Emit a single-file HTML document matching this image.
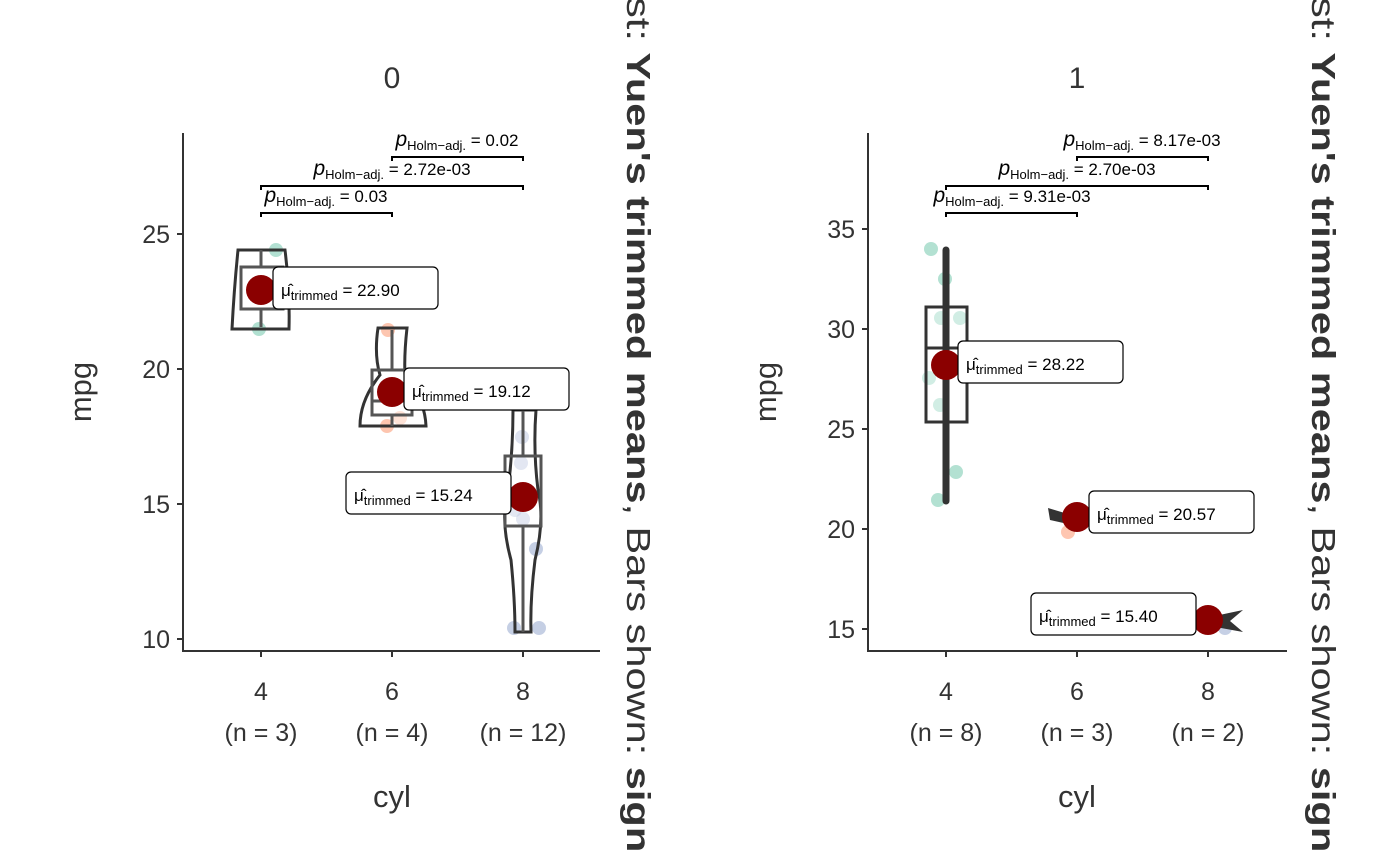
<!DOCTYPE html>
<html><head><meta charset="utf-8"><style>
html,body{margin:0;background:#fff;width:1400px;height:866px;overflow:hidden}
svg{display:block;font-family:"Liberation Sans",sans-serif}
</style></head><body>
<svg width="1400" height="866" viewBox="0 0 1400 866" overflow="hidden">
<g fill="#333">
<text x="392" y="88" font-size="30" text-anchor="middle">0</text>
<text x="1077" y="88" font-size="30" text-anchor="middle">1</text>
<text transform="translate(91,392) rotate(-90)" font-size="31" text-anchor="middle">mpg</text>
<text transform="translate(776,392) rotate(-90)" font-size="31" text-anchor="middle">mpg</text>
<text x="392" y="807" font-size="31" text-anchor="middle">cyl</text>
<text x="1077" y="807" font-size="31" text-anchor="middle">cyl</text>
<g font-size="25" text-anchor="end">
<text x="170" y="243">25</text><text x="170" y="378">20</text><text x="170" y="513">15</text><text x="170" y="648">10</text>
<text x="855" y="238">35</text><text x="855" y="338">30</text><text x="855" y="438">25</text><text x="855" y="538">20</text><text x="855" y="638">15</text>
</g>
<g font-size="25" text-anchor="middle">
<text x="261" y="700">4</text><text x="261" y="741">(n = 3)</text>
<text x="392" y="700">6</text><text x="392" y="741">(n = 4)</text>
<text x="523" y="700">8</text><text x="523" y="741">(n = 12)</text>
<text x="946" y="700">4</text><text x="946" y="741">(n = 8)</text>
<text x="1077" y="700">6</text><text x="1077" y="741">(n = 3)</text>
<text x="1208" y="700">8</text><text x="1208" y="741">(n = 2)</text>
</g>
<text transform="translate(627,-3) rotate(90) scale(1.26,1)" font-size="33">st: <tspan font-weight="bold">Yuen's trimmed means</tspan>, Bars shown: <tspan font-weight="bold">sign</tspan></text>
<text transform="translate(1312,-3) rotate(90) scale(1.26,1)" font-size="33">st: <tspan font-weight="bold">Yuen's trimmed means</tspan>, Bars shown: <tspan font-weight="bold">sign</tspan></text>
</g>
<g stroke="#333" stroke-width="2" fill="none">
<path d="M183,133V651H600"/>
<path d="M177,234H183M177,369H183M177,504H183M177,639H183M261,651V657M392,651V657M523,651V657"/>
<path d="M868,133V651H1287"/>
<path d="M862,229H868M862,329H868M862,429H868M862,529H868M862,629H868M946,651V657M1077,651V657M1208,651V657"/>
</g>

<g opacity="0.5">
<circle cx="276" cy="250" r="7" fill="#66c2a5"/><circle cx="259" cy="329" r="7" fill="#66c2a5"/>
<circle cx="388" cy="330" r="7" fill="#fc8d62"/><circle cx="387" cy="426" r="7" fill="#fc8d62"/><circle cx="400" cy="418" r="7" fill="#fc8d62" opacity="0.5"/>
<circle cx="522" cy="437" r="7" fill="#8da0cb" opacity="0.6"/><circle cx="521" cy="463" r="7" fill="#8da0cb" opacity="0.5"/><circle cx="515" cy="510" r="7" fill="#8da0cb" opacity="0.5"/><circle cx="523" cy="519" r="7" fill="#8da0cb" opacity="0.5"/><circle cx="536" cy="549" r="7" fill="#8da0cb"/><circle cx="514" cy="628" r="7" fill="#8da0cb"/><circle cx="539" cy="628" r="7" fill="#8da0cb"/>
</g>
<g stroke="#333" stroke-width="3" fill="none">
<path d="M238,250H285Q290,290 289,329H232Q234,290 238,250Z"/>
<path d="M378,328H407Q404,355 405,375Q425,400 426,426H360Q360,400 380,375Q374,355 378,328Z"/>
<path d="M513,410H536Q533,450 538,490Q545,520 535,560Q530,600 531,632H515Q515,600 511,560Q500,520 508,490Q513,450 513,410Z"/>
</g>
<g stroke="#555" stroke-width="3" fill="none">
<path d="M261,250V267M261,309V327M241,267H283V309H241Z"/>
<path d="M392,330V370M392,415V426M372,370H412V415H372ZM372,401H412"/>
<path d="M523,410V456M523,526V632M505,456H541V526H505Z"/>
</g>
<g opacity="0.5" fill="#66c2a5">
<circle cx="931" cy="249" r="7"/><circle cx="945" cy="279" r="7"/><circle cx="941" cy="318" r="7" opacity="0.6"/><circle cx="960" cy="318" r="7" opacity="0.6"/><circle cx="929" cy="378" r="7" opacity="0.6"/><circle cx="940" cy="405" r="7" opacity="0.6"/><circle cx="956" cy="472" r="7"/><circle cx="938" cy="500" r="7"/>
<circle cx="1068" cy="532" r="7" fill="#fc8d62"/><circle cx="1225" cy="628" r="7" fill="#8da0cb"/>
</g>
<g stroke="#333" stroke-width="3" fill="none">
<path d="M926,307H967V422H926ZM926,348H967"/>
</g>
<path d="M946,250V501" stroke="#333" stroke-width="7" stroke-linecap="round"/>
<path d="M1048,508L1068,514H1090L1090,524H1068L1050,520Z" fill="#333"/>
<path d="M1210,617L1243,610L1230,621L1243,632L1210,626Z" fill="#333"/>

<g fill="#8b0000">
<circle cx="261" cy="290" r="15"/><circle cx="392" cy="392" r="15"/><circle cx="523" cy="497" r="15"/>
<circle cx="946" cy="365" r="15"/><circle cx="1077" cy="517" r="15"/><circle cx="1208" cy="620" r="15"/>
</g>
<g font-size="17" fill="#000">
<g><rect x="273" y="267" width="165" height="42" rx="5" fill="#fff" stroke="#000" stroke-width="1.2"/><text x="281" y="296">μ̂<tspan font-size="13" dy="4">trimmed</tspan><tspan dy="-4"> = 22.90</tspan></text></g>
<g><rect x="404" y="368" width="165" height="42" rx="5" fill="#fff" stroke="#000" stroke-width="1.2"/><text x="412" y="397">μ̂<tspan font-size="13" dy="4">trimmed</tspan><tspan dy="-4"> = 19.12</tspan></text></g>
<g><rect x="346" y="472" width="165" height="42" rx="5" fill="#fff" stroke="#000" stroke-width="1.2"/><text x="354" y="501">μ̂<tspan font-size="13" dy="4">trimmed</tspan><tspan dy="-4"> = 15.24</tspan></text></g>
<g><rect x="958" y="341" width="165" height="42" rx="5" fill="#fff" stroke="#000" stroke-width="1.2"/><text x="966" y="370">μ̂<tspan font-size="13" dy="4">trimmed</tspan><tspan dy="-4"> = 28.22</tspan></text></g>
<g><rect x="1089" y="491" width="165" height="42" rx="5" fill="#fff" stroke="#000" stroke-width="1.2"/><text x="1097" y="520">μ̂<tspan font-size="13" dy="4">trimmed</tspan><tspan dy="-4"> = 20.57</tspan></text></g>
<g><rect x="1031" y="593" width="165" height="42" rx="5" fill="#fff" stroke="#000" stroke-width="1.2"/><text x="1039" y="622">μ̂<tspan font-size="13" dy="4">trimmed</tspan><tspan dy="-4"> = 15.40</tspan></text></g>
</g>
<g stroke="#000" stroke-width="2" fill="none">
<path d="M261,217V213H392V217M261,190V186H523V190M392,161V157H523V161"/>
<path d="M946,217V213H1077V217M946,190V186H1208V190M1077,161V157H1208V161"/>
</g>
<g font-size="17" fill="#000" text-anchor="middle">
<text x="326" y="202"><tspan font-style="italic" font-size="21">p</tspan><tspan font-size="13" dy="4">Holm−adj.</tspan><tspan dy="-4"> = 0.03</tspan></text>
<text x="392" y="175"><tspan font-style="italic" font-size="21">p</tspan><tspan font-size="13" dy="4">Holm−adj.</tspan><tspan dy="-4"> = 2.72e-03</tspan></text>
<text x="457" y="146"><tspan font-style="italic" font-size="21">p</tspan><tspan font-size="13" dy="4">Holm−adj.</tspan><tspan dy="-4"> = 0.02</tspan></text>
<text x="1012" y="202"><tspan font-style="italic" font-size="21">p</tspan><tspan font-size="13" dy="4">Holm−adj.</tspan><tspan dy="-4"> = 9.31e-03</tspan></text>
<text x="1077" y="175"><tspan font-style="italic" font-size="21">p</tspan><tspan font-size="13" dy="4">Holm−adj.</tspan><tspan dy="-4"> = 2.70e-03</tspan></text>
<text x="1142" y="146"><tspan font-style="italic" font-size="21">p</tspan><tspan font-size="13" dy="4">Holm−adj.</tspan><tspan dy="-4"> = 8.17e-03</tspan></text>
</g>
</svg>
</body></html>
